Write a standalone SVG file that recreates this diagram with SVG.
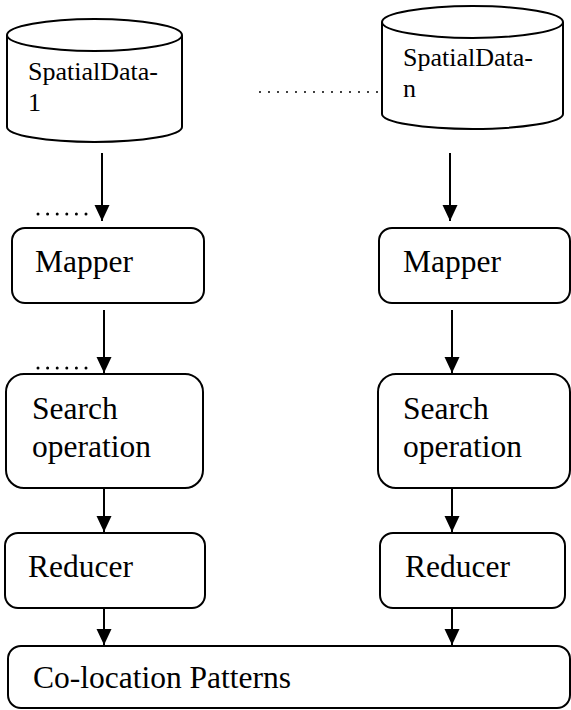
<svg xmlns="http://www.w3.org/2000/svg" width="571" height="710" viewBox="0 0 571 710">
<defs>
<style>
.shape{fill:#fff;stroke:#000;stroke-width:2}
.t{font-size:31.5px;fill:#000}
.ts{font-size:26px;fill:#000}
.edge{stroke:#000;stroke-width:2;fill:none}
.dots{stroke:#000;stroke-width:3;stroke-linecap:round;stroke-dasharray:0 9.6;fill:none}
.dots2{stroke:#000;stroke-width:2;stroke-linecap:round;stroke-dasharray:0 9;fill:none}
</style>
<marker id="ah" viewBox="0 0 16 16" refX="16" refY="8" markerWidth="16" markerHeight="16" markerUnits="userSpaceOnUse" orient="auto">
<path d="M0,0.5 L16,8 L0,15.5 Z" fill="#000"/>
</marker>
</defs>
<rect width="571" height="710" fill="#fff"/>
<g font-family="'Liberation Serif', 'DejaVu Serif', serif">
<g id="db1">
<path class="shape" d="M7,35 L7,127 A87.5,15 0 0 0 182,127 L182,35 A87.5,16 0 0 0 7,35 Z"/>
<path class="shape" d="M7,35 A87.5,16 0 0 0 182,35" fill="none"/>
<text class="ts" x="28" y="80">SpatialData-</text>
<text class="ts" x="28" y="111">1</text>
</g>
<g id="dbn">
<path class="shape" d="M382,22 L382,114 A90.5,15 0 0 0 563,114 L563,22 A90.5,16 0 0 0 382,22 Z"/>
<path class="shape" d="M382,22 A90.5,16 0 0 0 563,22" fill="none"/>
<text class="ts" x="403" y="66">SpatialData-</text>
<text class="ts" x="403" y="97">n</text>
</g>
<g id="mapper1">
<rect class="shape" x="12" y="228" width="192" height="75" rx="13"/>
<text class="t" x="35" y="272">Mapper</text>
</g>
<g id="mapper2">
<rect class="shape" x="379" y="228" width="191" height="75" rx="13"/>
<text class="t" x="403" y="272">Mapper</text>
</g>
<g id="search1">
<rect class="shape" x="6" y="374" width="197" height="114" rx="18"/>
<text class="t" x="32" y="419">Search</text>
<text class="t" x="32" y="457">operation</text>
</g>
<g id="search2">
<rect class="shape" x="378" y="374" width="192" height="114" rx="18"/>
<text class="t" x="403" y="419">Search</text>
<text class="t" x="403" y="457">operation</text>
</g>
<g id="reducer1">
<rect class="shape" x="5" y="533" width="200" height="75" rx="13"/>
<text class="t" x="28" y="577">Reducer</text>
</g>
<g id="reducer2">
<rect class="shape" x="380" y="533" width="185" height="75" rx="13"/>
<text class="t" x="405" y="577">Reducer</text>
</g>
<g id="colocation">
<rect class="shape" x="8" y="646" width="562" height="62" rx="13"/>
<text class="t" x="33" y="688">Co-location Patterns</text>
</g>
</g>
<g id="connectors">
<line class="edge" x1="102" y1="153" x2="102" y2="221" marker-end="url(#ah)"/>
<line class="edge" x1="450" y1="153" x2="450" y2="221" marker-end="url(#ah)"/>
<line class="edge" x1="104" y1="310" x2="104" y2="373" marker-end="url(#ah)"/>
<line class="edge" x1="452" y1="310" x2="452" y2="373" marker-end="url(#ah)"/>
<line class="edge" x1="104" y1="488" x2="104" y2="532" marker-end="url(#ah)"/>
<line class="edge" x1="452" y1="488" x2="452" y2="532" marker-end="url(#ah)"/>
<line class="edge" x1="104" y1="608" x2="104" y2="645" marker-end="url(#ah)"/>
<line class="edge" x1="452" y1="608" x2="452" y2="645" marker-end="url(#ah)"/>
<line class="dots" x1="38" y1="214" x2="87" y2="214"/>
<line class="dots" x1="38" y1="368" x2="87" y2="368"/>
<line class="dots2" x1="260" y1="92" x2="378" y2="92"/>
</g>
</svg>
